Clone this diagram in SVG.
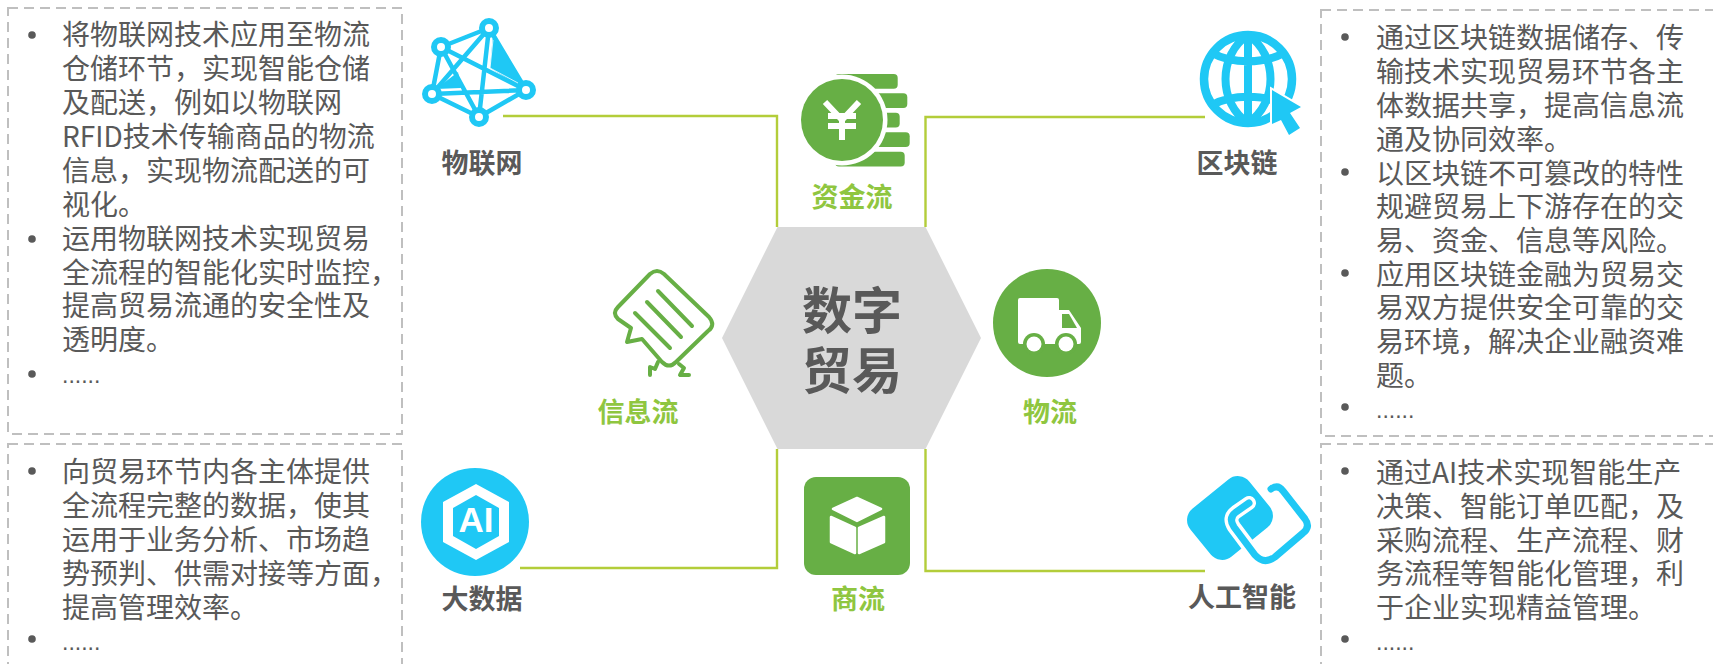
<svg xmlns="http://www.w3.org/2000/svg" width="1713" height="664" viewBox="0 0 1713 664">
<style>
text{font-family:"Noto Sans CJK SC","Liberation Sans",sans-serif}
.body{font-size:28px;fill:#595959}
.dots{font-family:"Liberation Sans",sans-serif;font-size:23px;fill:#595959}
.lab{font-size:27px;font-weight:700;fill:#595959;text-anchor:middle}
.glab{font-size:27px;font-weight:700;fill:#8fc640;text-anchor:middle}
.box{fill:none;stroke:#bfbfbf;stroke-width:2;stroke-dasharray:10 6}
.bul{fill:#595959}
.con{fill:none;stroke:#b3cd3a;stroke-width:2.4}
.blue{fill:#1fc8f5}
.green{fill:#67af45}
.w{fill:#fff}
</style>
<g id="box-iot">
<rect class="box" x="8" y="8" width="394" height="426"/>
<circle class="bul" cx="32" cy="35" r="3.8"/><circle class="bul" cx="32" cy="239" r="3.8"/><circle class="bul" cx="32" cy="374" r="3.8"/>
<text class="body" x="62" y="45">将物联网技术应用至物流</text>
<text class="body" x="62" y="79">仓储环节&#xFF0C;实现智能仓储</text>
<text class="body" x="62" y="113">及配送&#xFF0C;例如以物联网</text>
<text class="body" x="62" y="147">RFID技术传输商品的物流</text>
<text class="body" x="62" y="181">信息&#xFF0C;实现物流配送的可</text>
<text class="body" x="62" y="215">视化。</text>
<text class="body" x="62" y="249">运用物联网技术实现贸易</text>
<text class="body" x="62" y="283">全流程的智能化实时监控&#xFF0C;</text>
<text class="body" x="62" y="316">提高贸易流通的安全性及</text>
<text class="body" x="62" y="350">透明度。</text>
<text class="dots" x="62" y="383">......</text>
</g>
<g id="box-bigdata">
<rect class="box" x="8" y="444" width="394" height="240"/>
<circle class="bul" cx="32" cy="471" r="3.8"/><circle class="bul" cx="32" cy="639" r="3.8"/>
<text class="body" x="62" y="482">向贸易环节内各主体提供</text>
<text class="body" x="62" y="516">全流程完整的数据&#xFF0C;使其</text>
<text class="body" x="62" y="550">运用于业务分析、市场趋</text>
<text class="body" x="62" y="584">势预判、供需对接等方面&#xFF0C;</text>
<text class="body" x="62" y="618">提高管理效率。</text>
<text class="dots" x="62" y="650">......</text>
</g>
<g id="box-blockchain">
<rect class="box" x="1321" y="10" width="410" height="426"/>
<circle class="bul" cx="1345" cy="37" r="3.8"/><circle class="bul" cx="1345" cy="172" r="3.8"/><circle class="bul" cx="1345" cy="273" r="3.8"/><circle class="bul" cx="1345" cy="407" r="3.8"/>
<text class="body" x="1376" y="48">通过区块链数据储存、传</text>
<text class="body" x="1376" y="82">输技术实现贸易环节各主</text>
<text class="body" x="1376" y="116">体数据共享&#xFF0C;提高信息流</text>
<text class="body" x="1376" y="150">通及协同效率。</text>
<text class="body" x="1376" y="184">以区块链不可篡改的特性</text>
<text class="body" x="1376" y="217">规避贸易上下游存在的交</text>
<text class="body" x="1376" y="251">易、资金、信息等风险。</text>
<text class="body" x="1376" y="285">应用区块链金融为贸易交</text>
<text class="body" x="1376" y="318">易双方提供安全可靠的交</text>
<text class="body" x="1376" y="352">易环境&#xFF0C;解决企业融资难</text>
<text class="body" x="1376" y="386">题。</text>
<text class="dots" x="1376" y="418">......</text>
</g>
<g id="box-ai">
<rect class="box" x="1321" y="444" width="410" height="240"/>
<circle class="bul" cx="1345" cy="471" r="3.8"/><circle class="bul" cx="1345" cy="639" r="3.8"/>
<text class="body" x="1376" y="483">通过AI技术实现智能生产</text>
<text class="body" x="1376" y="517">决策、智能订单匹配&#xFF0C;及</text>
<text class="body" x="1376" y="551">采购流程、生产流程、财</text>
<text class="body" x="1376" y="584">务流程等智能化管理&#xFF0C;利</text>
<text class="body" x="1376" y="618">于企业实现精益管理。</text>
<text class="dots" x="1376" y="650">......</text>
</g>
<g id="connectors">
<path class="con" d="M503 116H777V227"/>
<path class="con" d="M1205 117H925.500V227"/>
<path class="con" d="M520 568H777V449"/>
<path class="con" d="M1205 571H925.500V449"/>
</g>
<g id="center">
<polygon points="722,338 777.500,227 925.500,227 981,338 925.500,449 777.500,449" fill="#d9d9d9"/>
<text x="852" y="329" font-size="50" font-weight="700" fill="#595959" text-anchor="middle">数字</text>
<text x="852" y="389" font-size="50" font-weight="700" fill="#595959" text-anchor="middle">贸易</text>
</g>
<g id="node-iot">
<g fill="none" stroke="#1fc8f5" stroke-width="4.500">
<path d="M441 47L489 28M441 47L432 94M441 47L526 90M441 47L479 117M489 28L432 94M489 28L526 90M489 28L479 117M432 94L526 90M432 94L479 117M526 90L479 117"/>
</g>
<path class="blue" d="M493 34L526 90L490 68Z"/>
<path d="M493 40L490 68L518 83" fill="none" stroke="#fff" stroke-width="0.800"/>
<path class="blue" d="M436 89L458 72L461 88Z"/>
<g fill="#fff" stroke="#1fc8f5" stroke-width="6">
<circle cx="441" cy="47" r="7"/><circle cx="489" cy="28" r="7"/><circle cx="432" cy="94" r="7"/><circle cx="526" cy="90" r="7"/><circle cx="479" cy="117" r="7"/>
</g>
<text class="lab" x="482" y="173">物联网</text>
</g>
<g id="node-capital">
<g class="green">
<rect x="835" y="74" width="62.700" height="14.700" rx="4"/>
<rect x="835" y="93.300" width="72.300" height="14.700" rx="4"/>
<rect x="835" y="112.700" width="64.700" height="14.700" rx="4"/>
<rect x="835" y="132.300" width="74.700" height="14.700" rx="4"/>
<rect x="835" y="151.700" width="69.700" height="14.700" rx="4"/>
</g>
<circle class="w" cx="842" cy="120" r="45.500"/>
<circle class="green" cx="842" cy="120" r="41"/>
<path d="M825 102L842 120L859 102M828 116H856M828 126H856M842 120V140" fill="none" stroke="#fff" stroke-width="6"/>
<text class="glab" x="852" y="207">资金流</text>
</g>
<g id="node-blockchain">
<circle cx="1248" cy="79" r="44" fill="none" stroke="#1fc8f5" stroke-width="8.500"/>
<path d="M1248 35V123M1248 35C1218 55 1218 103 1248 123M1248 35C1278 55 1278 103 1248 123M1212 53C1232 64 1264 64 1284 53M1212 105C1232 94 1264 94 1284 105" fill="none" stroke="#1fc8f5" stroke-width="8"/>
<path d="M1272 90L1301 107L1290 113L1300 128L1289 135L1281 120L1272 124Z" class="blue" stroke="#fff" stroke-width="4" paint-order="stroke" stroke-linejoin="miter"/>
<text class="lab" x="1237" y="173">区块链</text>
</g>
<g id="node-info">
<g fill="none" stroke="#67af45" stroke-width="4" stroke-linecap="round" stroke-linejoin="round">
<path d="M631 328L627 342L642 339L662 362Q669 369 676 362L708 331Q716 325 709 317L664 274Q657 268 650 274L618 307Q612 313 618 319Z"/>
<path d="M658 291L692 326M647 302L681 337M635 313L670 348"/>
<path d="M650 375L650 367L655 369L658 362M679 364L684 368L680 375L689 375"/>
</g>
<text class="glab" x="638" y="422">信息流</text>
</g>
<g id="node-logistics">
<circle class="green" cx="1047" cy="323" r="54"/>
<path class="w" d="M1020 298H1057Q1059 298 1059 300V310H1069L1081 328V342Q1081 344 1079 344H1020Q1018 344 1018 342V300Q1018 298 1020 298Z"/>
<path class="green" d="M1062 314H1069L1077 328H1062Z"/>
<circle class="green" cx="1034" cy="344" r="11"/><circle class="w" cx="1034" cy="344" r="7.500"/>
<circle class="green" cx="1066" cy="344" r="11"/><circle class="w" cx="1066" cy="344" r="7.500"/>
<text class="glab" x="1050" y="422">物流</text>
</g>
<g id="node-bigdata">
<circle class="blue" cx="475" cy="522" r="54"/>
<path class="w" fill-rule="evenodd" d="M476 484L509 502V542L476 560L443 542V502ZM476 495L453 508V536L476 549L499 536V508Z"/>
<text x="476" y="532" font-size="35" font-weight="700" fill="#fff" text-anchor="middle" style="font-family:'Liberation Sans',sans-serif">AI</text>
<text class="lab" x="482" y="609">大数据</text>
</g>
<g id="node-commerce">
<rect class="green" x="804" y="477" width="106" height="98" rx="12"/>
<g class="w" stroke="#fff" stroke-width="2.500" stroke-linejoin="round">
<path d="M857 498L881 509L857 521L833 509Z"/>
<path d="M831 517L855 528V553L831 542Z"/>
<path d="M859 528L884 517V542L859 553Z"/>
</g>
<text class="glab" x="858" y="609">商流</text>
</g>
<g id="node-ai">
<rect class="blue" x="1192" y="487" width="76" height="62" rx="15" transform="rotate(-39 1230 518)"/>
<path d="M1271 489Q1278 484 1283 491L1305 519Q1311 527 1303 533L1275 557Q1264 565 1255 555L1234 527Q1228 518 1236 512L1249 503" fill="none" stroke="#fff" stroke-width="14" stroke-linecap="round"/>
<path d="M1271 489Q1278 484 1283 491L1305 519Q1311 527 1303 533L1275 557Q1264 565 1255 555L1234 527Q1228 518 1236 512L1249 503" fill="none" stroke="#1fc8f5" stroke-width="7" stroke-linecap="round"/>
<text class="lab" x="1242" y="607">人工智能</text>
</g>
</svg>
